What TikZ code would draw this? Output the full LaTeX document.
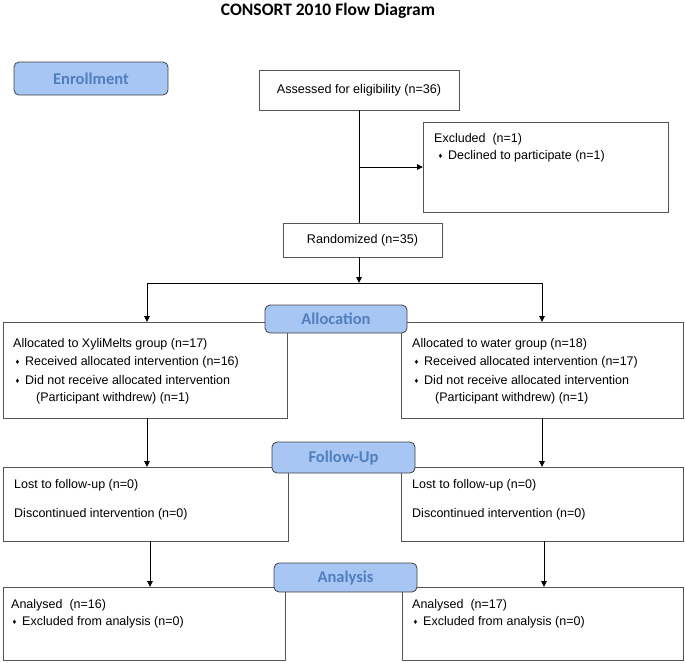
\documentclass[tikz,border=0pt]{standalone}
\usepackage{fontspec}
\setmainfont{Liberation Sans}
\newfontfamily\labfont{Carlito}
\usetikzlibrary{arrows.meta,positioning,calc}
\definecolor{labfill}{HTML}{A8C6F4}
\definecolor{labtext}{HTML}{4F7FBE}
\definecolor{boxline}{HTML}{555555}
\newcommand{\bul}{\makebox[0pt][l]{\hspace{-9.5pt}\raisebox{0.8pt}{\fontsize{7.5}{7.5}\selectfont ♦}}}
\tikzset{
  flowbox/.style={draw=boxline,line width=0.8pt},
  stagelabel/.style={draw=black!75,line width=0.8pt,fill=labfill,rounded corners=5pt},
  stagetext/.style={font=\labfont\bfseries\fontsize{16.5}{16.5}\selectfont,text=labtext},
  ln/.style={anchor=west,inner sep=0pt,font=\fontsize{12.5}{14}\selectfont},
  cn/.style={inner sep=0pt,font=\fontsize{12.6}{14}\selectfont},
  conn/.style={line width=0.9pt,black},
  arr/.style={conn,-{Triangle[length=6pt,width=5.5pt]}}
}
\begin{document}
\begin{tikzpicture}[x=1pt,y=-1pt]
\useasboundingbox (0,0) rectangle (685,662);
% title
\node[font=\labfont\bfseries\fontsize{17.5}{17.5}\selectfont] (title) at (328,11) {CONSORT 2010 Flow Diagram};

% boxes
\draw[flowbox] (259,70) rectangle (459,110);
\node[cn] (assessed) at (359,90) {Assessed for eligibility (n=36)};
\coordinate (assS) at (359,110);

\draw[flowbox] (423,122) rectangle (668,212);
\coordinate (exW) at (423,167);
\node[ln] (ex1) at (434,139) {Excluded\ \ (n=1)};
\node[ln] (ex2) at (448,156) {\bul Declined to participate (n=1)};

\draw[flowbox] (283,223) rectangle (442,257);
\node[cn] (rand) at (362.5,240) {Randomized (n=35)};
\coordinate (randN) at (359,223);
\coordinate (randS) at (359,257);
\coordinate (split) at (359,283);
\coordinate (splitL) at (147,283);
\coordinate (splitR) at (542,283);
\coordinate (exJ) at (359,167);

% allocation boxes
\draw[flowbox] (3,322) rectangle (287,418);
\draw[flowbox] (401,322) rectangle (683,418);
\coordinate (alLN) at (147,322);
\coordinate (alRN) at (542,322);
\coordinate (alLS) at (147,418);
\coordinate (alRS) at (542,418);
\node[ln] (l1) at (13,344) {Allocated to XyliMelts group (n=17)};
\node[ln] (l2) at (25,362) {\bul Received allocated intervention (n=16)};
\node[ln] (l3) at (25,380) {\bul Did not receive allocated intervention};
\node[ln] (l4) at (36,398) {(Participant withdrew) (n=1)};
\node[ln] (r1) at (412,344) {Allocated to water group (n=18)};
\node[ln] (r2) at (424,362) {\bul Received allocated intervention (n=17)};
\node[ln] (r3) at (424,380) {\bul Did not receive allocated intervention};
\node[ln] (r4) at (435,398) {(Participant withdrew) (n=1)};

% follow-up boxes
\draw[flowbox] (3,467) rectangle (288,541);
\draw[flowbox] (401,467) rectangle (683,541);
\coordinate (fuLN) at (147,467);
\coordinate (fuRN) at (542,467);
\coordinate (fuLS) at (150,541);
\coordinate (fuRS) at (544,541);
\node[ln] (fl1) at (14,485) {Lost to follow-up (n=0)};
\node[ln] (fl2) at (14,514) {Discontinued intervention (n=0)};
\node[ln] (fr1) at (412,485) {Lost to follow-up (n=0)};
\node[ln] (fr2) at (412,514) {Discontinued intervention (n=0)};

% analysis boxes
\draw[flowbox] (3,587) rectangle (285,660);
\draw[flowbox] (402,587) rectangle (683,660);
\coordinate (anLN) at (150,587);
\coordinate (anRN) at (544,587);
\node[ln] (al1) at (11,605) {Analysed\ \ (n=16)};
\node[ln] (al2) at (22,622) {\bul Excluded from analysis (n=0)};
\node[ln] (ar1) at (412,605) {Analysed\ \ (n=17)};
\node[ln] (ar2) at (423,622) {\bul Excluded from analysis (n=0)};

% connectors
\draw[conn] (assS) -- (randN);
\draw[arr] (exJ) -- (exW);
\draw[arr] (randS) -- (split);
\draw[conn] (splitL) -- (splitR);
\draw[arr] (splitL) -- (alLN);
\draw[arr] (splitR) -- (alRN);
\draw[arr] (alLS) -- (fuLN);
\draw[arr] (alRS) -- (fuRN);
\draw[arr] (fuLS) -- (anLN);
\draw[arr] (fuRS) -- (anRN);

% stage labels
\draw[stagelabel] (14,62) rectangle (168,95);
\node[stagetext] (enr) at (91,78.5) {Enrollment};
\draw[stagelabel] (265,305) rectangle (407,333);
\node[stagetext] (alloc) at (336,319) {Allocation};
\draw[stagelabel] (272,442) rectangle (415,473);
\node[stagetext] (fu) at (343.5,457.5) {Follow-Up};
\draw[stagelabel] (274,563) rectangle (417,592);
\node[stagetext] (an) at (345.5,577.5) {Analysis};
\end{tikzpicture}
\end{document}
